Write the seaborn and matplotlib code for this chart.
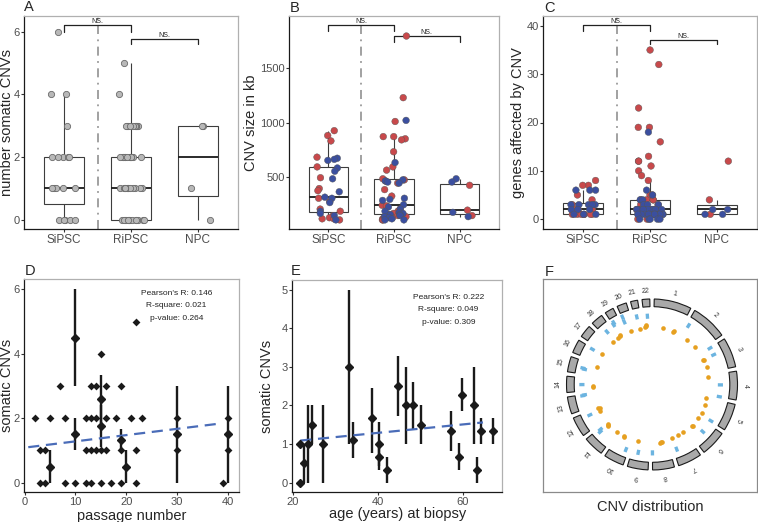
import numpy as np
import pandas as pd
import matplotlib
matplotlib.use("Agg")
import matplotlib.pyplot as plt
import seaborn as sns
from matplotlib.patches import Wedge

# -------------------------------
# Data
# -------------------------------
groups = ["SiPSC", "RiPSC", "NPC"]

# A: number of somatic CNVs per line
a_sipsc = [0, 0, 0, 0, 0, 1, 1, 1, 1, 1, 2, 2, 2, 2, 2, 3, 4, 4, 6]
a_ripsc = [0, 0, 0, 0, 0, 0, 0, 0, 0, 0, 0, 0, 0,
           1, 1, 1, 1, 1, 1, 1, 1, 1, 1, 1, 1,
           2, 2, 2, 2, 2, 2, 2, 2, 2, 2, 2, 2,
           3, 3, 3, 3, 3, 3, 3, 3, 3, 3, 4, 5]
a_npc = [0, 1, 3, 3]

# B: CNV size in kb (red / blue points)
b_sipsc_red = [925, 880, 830, 680, 590, 490, 390, 370, 300, 270, 200, 180, 140, 120, 110, 110, 100]
b_sipsc_blue = [670, 660, 650, 580, 550, 480, 360, 300, 310, 260, 180, 160, 140, 100]
b_ripsc_red = [1800, 1230, 1010, 870, 870, 850, 840, 730, 590, 560, 460, 480, 470, 440, 380, 320,
               235, 230, 200, 180, 160, 150, 140, 130, 120, 110, 100, 100]
b_ripsc_blue = [1020, 630, 470, 460, 450, 440, 300, 290, 280, 240, 220, 200, 180, 170, 160, 150,
                150, 140, 130, 120, 110, 100, 100]
b_npc_red = [420, 190, 140]
b_npc_blue = [480, 450, 170, 130]

# C: genes affected by CNV (red / blue points)
c_sipsc_red = [8, 7, 7, 5, 4, 3, 3, 2, 2, 2, 2, 1, 1, 1, 1, 1, 1, 1]
c_sipsc_blue = [6, 6, 6, 3, 3, 3, 3, 3, 2, 2, 2, 1, 1, 1]
c_ripsc_red = [35, 32, 23, 19, 19, 16, 13, 12, 12, 11, 10, 9, 8, 5, 5, 4, 4, 4, 4, 3, 3, 3,
               2, 2, 2, 2, 2, 1, 1, 1, 1, 1, 1, 0, 0]
c_ripsc_blue = [18, 6, 5, 4, 4, 3, 3, 3, 2, 2, 2, 2, 2, 2, 2, 2, 2, 2, 2,
                1, 1, 1, 1, 1, 1, 1, 1, 1, 1, 1, 1, 1, 1, 1, 1, 0, 0, 0, 0, 0]
c_npc_red = [12, 4, 1]
c_npc_blue = [2, 2, 1, 1]

# D: somatic CNVs vs passage number
d_point_x = [3, 4, 8, 10, 12, 13, 15, 17, 19, 22, 39,
             3, 4, 12, 13, 14, 15, 16, 19, 22, 30, 40,
             2, 5, 8, 12, 13, 14, 16, 18, 21, 23, 30, 40,
             7, 13, 14, 16, 19, 15, 22]
d_point_y = [0, 0, 0, 0, 0, 0, 0, 0, 0, 0, 0,
             1, 1, 1, 1, 1, 1, 1, 1, 1, 1, 1,
             2, 2, 2, 2, 2, 2, 2, 2, 2, 2, 2, 2,
             3, 3, 3, 3, 3, 4, 5]
d_bar_x = [5, 10, 10, 15, 15, 19, 20, 30, 40]
d_bar_mean = [0.5, 4.5, 1.5, 2.6, 1.75, 1.33, 0.5, 1.5, 1.5]
d_bar_lo = [0, 3, 1, 1.85, 1.1, 1.0, 0, 0, 0]
d_bar_hi = [1, 6, 2, 3.35, 2.4, 1.67, 1, 3, 3]
d_fit_x = [0.7, 38.8]
d_fit_y = [1.10, 1.84]
d_stats = ["Pearson's R: 0.146", "R-square: 0.021", "p-value: 0.264"]

# E: somatic CNVs vs age at biopsy
e_age = [21.7, 21.7, 22.6, 23.5, 24.4, 27.0, 33.2, 34.1, 38.5, 40.3, 40.3, 42.0,
         44.8, 46.5, 48.3, 50.1, 57.1, 59.0, 59.8, 62.5, 63.4, 64.3, 67.0]
e_mean = [1.0, 0.0, 0.5, 1.0, 1.5, 1.0, 3.0, 1.1, 1.67, 1.0, 0.67, 0.33,
          2.5, 2.0, 2.0, 1.5, 1.33, 0.67, 2.27, 2.0, 0.33, 1.33, 1.33]
e_lo = [1.0, 0.0, 0.0, 0.0, 1.0, 0.0, 1.0, 0.63, 0.78, 0.42, 0.33, 0.0,
        1.73, 1.0, 1.4, 1.0, 0.82, 0.33, 1.85, 1.0, 0.0, 1.0, 1.0]
e_hi = [1.0, 0.0, 1.0, 2.0, 2.0, 2.0, 5.0, 1.57, 2.45, 1.58, 1.0, 0.67,
        3.27, 3.0, 2.6, 2.0, 1.85, 1.02, 2.7, 3.0, 0.67, 1.67, 1.67]
e_fit_x = [21.7, 64.7]
e_fit_y = [1.09, 1.56]
e_stats = ["Pearson's R: 0.222", "R-square: 0.049", "p-value: 0.309"]

# F: CNV distribution over chromosomes (Mb)
chrom_len = [249, 242, 198, 190, 181, 171, 159, 145, 138, 134, 135, 133,
             114, 107, 102, 90, 83, 80, 59, 64, 47, 51]
blue_chrom = [2, 3, 3, 4, 4, 5, 6, 7, 8, 9, 10, 11, 11, 12, 13, 13, 14, 15, 15, 16, 18, 19, 19, 20, 20, 21, 22]
blue_pos = [18, 2, 64, 91, 188, 178, 77, 133, 145, 86, 20, 108, 122, 103, 106, 111, 52, 40, 47, 84, 37, 3, 13, 2, 4, 18, 28]
blue_r = [0.81, 0.80, 0.80, 0.80, 0.80, 0.81, 0.81, 0.81, 0.80, 0.81, 0.82, 0.82, 0.80, 0.81, 0.82, 0.80,
          0.82, 0.81, 0.83, 0.81, 0.81, 0.83, 0.85, 0.80, 0.86, 0.81, 0.80]
orange_chrom = [1, 1, 1, 2, 2, 3, 3, 3, 4, 5, 5, 5, 6, 6, 6, 7, 7, 7, 8, 8, 8, 9, 10, 10, 11, 11, 11, 11,
                12, 12, 12, 14, 14, 15, 16, 18, 18, 19, 19, 20, 21, 22, 22, 22]
orange_pos = [97, 198, 205, 78, 187, 63, 68, 143, 16, 2, 73, 157, 10, 100, 108, 9, 68, 141, 52, 58, 77, 108,
              79, 84, 4, 100, 107, 114, 90, 117, 131, 32, 37, 88, 89, 14, 78, 2, 6, 21, 19, 1, 6, 10]
orange_r = [0.67, 0.66, 0.68, 0.66, 0.67, 0.66, 0.67, 0.67, 0.66, 0.65, 0.66, 0.67, 0.67, 0.68, 0.67,
            0.66, 0.67, 0.67, 0.68, 0.68, 0.69, 0.68, 0.70, 0.69, 0.69, 0.71, 0.70, 0.69,
            0.68, 0.67, 0.69, 0.69, 0.69, 0.68, 0.68, 0.67, 0.68, 0.68, 0.69, 0.67, 0.67, 0.68, 0.69, 0.70]

# -------------------------------
# Styling
# -------------------------------
sns.set_theme(style="white")
plt.rcParams["font.family"] = ["Liberation Sans", "DejaVu Sans"]
np.random.seed(3)

red, blue = "#c8494b", "#3b4f9f"
W, H = 758, 522
fig = plt.figure(figsize=(W / 100, H / 100), dpi=100)


def px_axes(x0, y0, x1, y1):
    return fig.add_axes([x0 / W, 1 - y1 / H, (x1 - x0) / W, (y1 - y0) / H])


def style(ax):
    for s in ["top", "right"]:
        ax.spines[s].set_color("#b0b0b0")
    for s in ["left", "bottom"]:
        ax.spines[s].set_color("#1a1a1a")
    for s in ax.spines.values():
        s.set_linewidth(0.9)
    ax.tick_params(length=2.3, width=0.8, color="#333333", labelsize=8,
                   labelcolor="#4d4d4d", pad=0.8, left=True, bottom=True)


def to_df(*parts):
    rows = []
    for grp, kind, vals in parts:
        rows += [(grp, kind, v) for v in vals]
    return pd.DataFrame(rows, columns=["group", "kind", "value"])


def box_panel(ax, df, hue):
    ax.axvline(0.5, color="#9a9a9a", lw=1.3, ls=(0, (5, 3, 1, 3)), zorder=0)
    sns.boxplot(data=df, x="group", y="value", order=groups, width=0.6, color="white",
                linecolor="#3d3d3d", linewidth=0.8, showfliers=False, showcaps=False,
                medianprops={"color": "#1a1a1a", "linewidth": 1.3}, ax=ax)
    if hue:
        sns.stripplot(data=df, x="group", y="value", order=groups, hue="kind",
                      hue_order=["red", "blue"], palette={"red": red, "blue": blue},
                      jitter=0.2, size=4.8, edgecolor="#555555", linewidth=0.3,
                      legend=False, ax=ax)
    else:
        sns.stripplot(data=df, x="group", y="value", order=groups, jitter=0.2, size=4.5,
                      color="#b8b8b8", edgecolor="#6a6a6a", linewidth=0.6, ax=ax)
    ax.set_xlim(-0.6, 2.6)
    ax.set_xlabel("")


def brackets(ax, spans):
    for x0, x1, top, tip in spans:
        ax.plot([x0, x0, x1, x1], [tip, top, top, tip], color="#222222", lw=0.9)
        ax.text((x0 + x1) / 2, top, "NS.", ha="center", va="bottom", fontsize=5, color="#222222")


# ---- A ----
axA = px_axes(24, 15.7, 238, 229.3)
dfA = to_df(("SiPSC", "all", a_sipsc), ("RiPSC", "all", a_ripsc), ("NPC", "all", a_npc))
box_panel(axA, dfA, hue=False)
brackets(axA, [(0, 1, 6.2, 6.0), (1, 2, 5.78, 5.62)])
axA.set_ylim(-0.31, 6.51)
axA.set_yticks([0, 2, 4, 6])
axA.set_ylabel("number somatic CNVs", fontsize=10.5)
axA.yaxis.set_label_coords(-0.047, 0.5)

# ---- B ----
axB = px_axes(289, 15.7, 499, 229.3)
dfB = to_df(("SiPSC", "red", b_sipsc_red), ("SiPSC", "blue", b_sipsc_blue),
            ("RiPSC", "red", b_ripsc_red), ("RiPSC", "blue", b_ripsc_blue),
            ("NPC", "red", b_npc_red), ("NPC", "blue", b_npc_blue))
box_panel(axB, dfB, hue=True)
brackets(axB, [(0, 1, 1905, 1850), (1, 2, 1797, 1741)])
axB.set_ylim(13, 1988)
axB.set_yticks([500, 1000, 1500])
axB.set_ylabel("CNV size in kb", fontsize=10.5)
axB.yaxis.set_label_coords(-0.146, 0.5)

# ---- C ----
axC = px_axes(543, 15.7, 757, 229.3)
dfC = to_df(("SiPSC", "red", c_sipsc_red), ("SiPSC", "blue", c_sipsc_blue),
            ("RiPSC", "red", c_ripsc_red), ("RiPSC", "blue", c_ripsc_blue),
            ("NPC", "red", c_npc_red), ("NPC", "blue", c_npc_blue))
box_panel(axC, dfC, hue=True)
brackets(axC, [(0, 1, 40.2, 39.0), (1, 2, 37.1, 36.3)])
axC.set_ylim(-2.1, 42.1)
axC.set_yticks([0, 10, 20, 30, 40])
axC.set_ylabel("genes affected by CNV", fontsize=10.5)
axC.yaxis.set_label_coords(-0.085, 0.5)

for ax in (axA, axB, axC):
    style(ax)
    ax.tick_params(axis="x", labelsize=8.5)


def scatter_panel(ax, px, py, bx, bm, blo, bhi, fx, fy, stats, sx, sy):
    sns.scatterplot(x=px, y=py, marker="D", color="#1a1a1a", s=16, linewidth=0, ax=ax)
    bm = np.asarray(bm)
    err = [bm - np.asarray(blo), np.asarray(bhi) - bm]
    ax.errorbar(bx, bm, yerr=err, fmt="D", color="#1a1a1a", ms=4, elinewidth=1.7, capsize=0)
    ax.plot(fx, fy, color="#4a6cb8", lw=1.6, ls=(0, (5, 3)))
    for i, s in enumerate(stats):
        ax.text(sx, sy[i], s, transform=ax.transAxes, ha="center", va="center",
                fontsize=6, color="#222222")


# ---- D ----
axD = px_axes(24, 279.3, 239, 492.3)
scatter_panel(axD, d_point_x, d_point_y, d_bar_x, d_bar_mean, d_bar_lo, d_bar_hi,
              d_fit_x, d_fit_y, d_stats, 0.71, [0.934, 0.875, 0.814])
axD.set_xlim(-0.14, 42.2)
axD.set_ylim(-0.3, 6.31)
axD.set_xticks([0, 10, 20, 30, 40])
axD.set_yticks([0, 2, 4, 6])
axD.set_xlabel("passage number", fontsize=10.5)
axD.set_ylabel("somatic CNVs", fontsize=10.5)
axD.yaxis.set_label_coords(-0.047, 0.5)
axD.xaxis.set_label_coords(0.5, -0.08)

# ---- E ----
axE = px_axes(292, 280, 502.3, 492.3)
scatter_panel(axE, [], [], e_age, e_mean, e_lo, e_hi,
              e_fit_x, e_fit_y, e_stats, 0.743, [0.918, 0.86, 0.80])
axE.set_xlim(19.75, 69.25)
axE.set_ylim(-0.25, 5.25)
axE.set_xticks([20, 40, 60])
axE.set_yticks([0, 1, 2, 3, 4, 5])
axE.set_xlabel("age (years) at biopsy", fontsize=10.5)
axE.set_ylabel("somatic CNVs", fontsize=10.5)
axE.yaxis.set_label_coords(-0.085, 0.5)
axE.xaxis.set_label_coords(0.5, -0.07)

for ax in (axD, axE):
    style(ax)

# ---- F ----
axF = px_axes(543, 279.3, 757, 492.3)
gap = 3.0
scale = (360 - gap * len(chrom_len)) / sum(chrom_len)
starts = []
a = gap / 2
for L in chrom_len:
    starts.append(a)
    a += L * scale + gap


def angle(c, pos):
    return np.deg2rad(starts[c - 1] + pos * scale)


for i, L in enumerate(chrom_len):
    t0, t1 = starts[i], starts[i] + L * scale
    axF.add_patch(Wedge((0, 0), 1.0, 90 - t1, 90 - t0, width=0.09,
                        facecolor="#a9a9a9", edgecolor="#1a1a1a", lw=0.8))
    tm = (t0 + t1) / 2
    axF.text(1.095 * np.sin(np.deg2rad(tm)), 1.095 * np.cos(np.deg2rad(tm)), str(i + 1),
             rotation=-tm, ha="center", va="center", fontsize=5, color="#333333",
             rotation_mode="anchor")

for c, p, r in zip(blue_chrom, blue_pos, blue_r):
    th = angle(c, p)
    axF.plot([(r - 0.03) * np.sin(th), (r + 0.03) * np.sin(th)],
             [(r - 0.03) * np.cos(th), (r + 0.03) * np.cos(th)],
             color="#6cb4e0", lw=2.4, solid_capstyle="butt")

oth = np.array([angle(c, p) for c, p in zip(orange_chrom, orange_pos)])
orr = np.array(orange_r)
sns.scatterplot(x=orr * np.sin(oth), y=orr * np.cos(oth), color="#e6a020", s=11,
                linewidth=0, ax=axF)

axF.set_xlim(-1.275, 1.228)
axF.set_ylim(-1.261, 1.230)
axF.set_xticks([])
axF.set_yticks([])
for s in axF.spines.values():
    s.set_color("#8a8a8a")
    s.set_linewidth(0.9)
axF.set_xlabel("CNV distribution", fontsize=10.5)
axF.xaxis.set_label_coords(0.5, -0.038)

# panel letters
for lab, x, y in [("A", 24, 11), ("B", 290, 11.7), ("C", 544, 11.7),
                  ("D", 25, 275), ("E", 290.7, 275), ("F", 544.3, 276)]:
    fig.text(x / W, 1 - y / H, lab, fontsize=10.5, ha="left", va="baseline")

fig.savefig("out.png", dpi=100)
